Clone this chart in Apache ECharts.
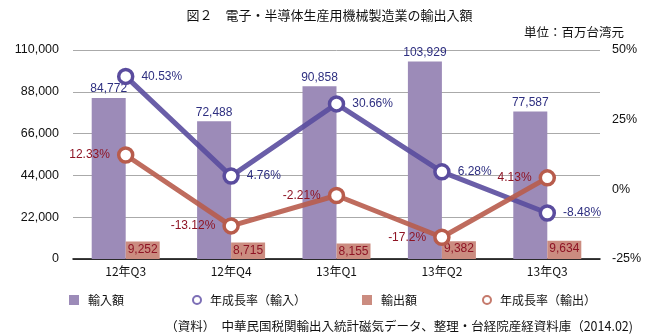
<!DOCTYPE html>
<html>
<head>
<meta charset="utf-8">
<script src="https://cdn.jsdelivr.net/npm/echarts@6/dist/echarts.min.js"></script>
<style>
  html, body { margin: 0; padding: 0; background: #fff; }
  #chart { width: 659px; height: 335px; }
</style>
</head>
<body>
<div id="chart"></div>
<script>
// Quarterly categories
const categories = ['12年Q3', '12年Q4', '13年Q1', '13年Q2', '13年Q3'];
// Import / export amounts (百万台湾元)
const importAmount = [84772, 72488, 90858, 103929, 77587];
const exportAmount = [9252, 8715, 8155, 9382, 9634];
// Year-on-year growth (%)
const importGrowth = [40.53, 4.76, 30.66, 6.28, -8.48];
const exportGrowth = [12.33, -13.12, -2.21, -17.2, 4.13];

const FONT = '"Noto Sans CJK JP", "Liberation Sans", sans-serif';
const NUM_FONT = '"Liberation Sans", sans-serif';
const C_IMP_BAR = '#9c8bb8';
const C_EXP_BAR = '#cb8c80';
const C_IMP_LINE = '#5a4c9e';
const C_EXP_LINE = '#b85c4c';
const C_IMP_TXT = '#2e2f80';
const C_EXP_TXT = '#8e1424';

const fmt = v => v.toLocaleString('en-US');

const chart = echarts.init(document.getElementById('chart'));

function legendAt(item, left, size) {
  return {
    data: [item],
    left: left, top: 289,
    itemWidth: size, itemHeight: size, itemGap: 0,
    textStyle: { fontFamily: FONT, fontSize: 12, color: '#111', padding: [0, 0, 0, 4] }
  };
}

chart.setOption({
  animation: false,
  textStyle: { fontFamily: FONT },
  title: [
    { text: '図２　電子・半導体生産用機械製造業の輸出入額', left: 'center', top: 4,
      textStyle: { fontFamily: FONT, fontSize: 13, fontWeight: 'normal', color: '#111' } },
    { text: '単位：百万台湾元', right: 30, top: 21,
      textStyle: { fontFamily: FONT, fontSize: 12.5, fontWeight: 'normal', color: '#111' } },
    { text: '（資料）　中華民国税関輸出入統計磁気データ、整理・台経院産経資料庫（2014.02)', right: 21, top: 315,
      textStyle: { fontFamily: FONT, fontSize: 12.5, fontWeight: 'normal', color: '#111' } }
  ],
  legend: [
    legendAt({ name: '輸入額', icon: 'rect' }, 64, 10),
    legendAt({ name: '年成長率（輸入）', icon: 'circle',
               itemStyle: { color: '#fff', borderColor: '#7d6fb6', borderWidth: 2 } }, 187, 8),
    legendAt({ name: '輸出額', icon: 'rect' }, 357, 10),
    legendAt({ name: '年成長率（輸出）', icon: 'circle',
               itemStyle: { color: '#fff', borderColor: '#c57a6c', borderWidth: 2 } }, 477, 8)
  ],
  grid: { left: 73, right: 59, top: 50, bottom: 76 },
  xAxis: {
    type: 'category', data: categories,
    axisTick: { show: false },
    axisLine: { lineStyle: { color: '#000', width: 1.5 } },
    axisLabel: { color: '#111', fontSize: 12, fontFamily: FONT, margin: 6 }
  },
  yAxis: [
    {
      type: 'value', min: 0, max: 110000, interval: 22000,
      axisLine: { show: false }, axisTick: { show: false },
      axisLabel: { color: '#111', fontSize: 12.5, fontFamily: NUM_FONT,
                   formatter: v => fmt(v), margin: 14 },
      splitLine: { lineStyle: { color: '#aaaaaa', width: 1 } }
    },
    {
      type: 'value', min: -25, max: 50, interval: 25,
      axisLine: { show: false }, axisTick: { show: false },
      axisLabel: { color: '#111', fontSize: 12.5, fontFamily: NUM_FONT,
                   formatter: v => v + '%', margin: 12 },
      splitLine: { show: false }
    }
  ],
  series: [
    {
      name: '輸入額', type: 'bar', data: importAmount,
      barWidth: 34, barGap: '0%',
      itemStyle: { color: C_IMP_BAR },
      label: { show: true, position: 'top', distance: 3, color: C_IMP_TXT, fontSize: 12,
               fontFamily: NUM_FONT, formatter: p => fmt(p.value) }
    },
    {
      name: '輸出額', type: 'bar', data: exportAmount,
      barWidth: 34, barGap: '0%',
      itemStyle: { color: C_EXP_BAR },
      label: { show: true, position: 'insideTop', distance: 2, color: C_EXP_TXT, fontSize: 12,
               fontFamily: NUM_FONT, formatter: p => fmt(p.value) }
    },
    {
      name: '年成長率（輸入）', type: 'line', yAxisIndex: 1, data: importGrowth,
      symbol: 'circle', symbolSize: 14,
      lineStyle: { color: C_IMP_LINE, width: 5, opacity: 0.9 },
      itemStyle: { color: '#fff', borderColor: C_IMP_LINE, borderWidth: 3.5 },
      label: { show: true, position: 'right', distance: 7, color: C_IMP_TXT, fontSize: 12,
               fontFamily: NUM_FONT, formatter: p => p.value + '%' },
      z: 5
    },
    {
      name: '年成長率（輸出）', type: 'line', yAxisIndex: 1, data: exportGrowth,
      symbol: 'circle', symbolSize: 14,
      lineStyle: { color: C_EXP_LINE, width: 5, opacity: 0.9 },
      itemStyle: { color: '#fff', borderColor: C_EXP_LINE, borderWidth: 3.5 },
      label: { show: true, position: 'left', distance: 7, color: C_EXP_TXT, fontSize: 12,
               fontFamily: NUM_FONT, formatter: p => p.value + '%' },
      z: 5
    }
  ]
});
</script>
</body>
</html>
